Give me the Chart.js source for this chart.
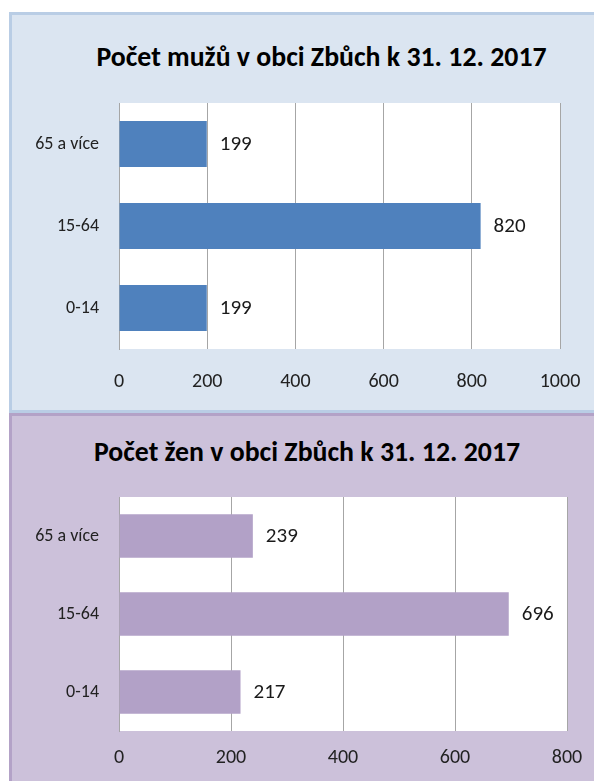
<!DOCTYPE html>
<html>
<head>
<meta charset="utf-8">
<script src="https://cdn.jsdelivr.net/npm/chart.js@4"></script>
<style>
  html, body { margin: 0; padding: 0; background: #ffffff; width: 594px; height: 781px; overflow: hidden; }
  .panel { position: absolute; box-sizing: border-box; }
  #menPanel { left: 9px; top: 12px; width: 600px; height: 401px; background: #dbe5f1; border: 3px solid #b9cde5; }
  #womenPanel { left: 9px; top: 413px; width: 600px; height: 380px; background: #ccc1da; border: 3px solid #b3a2c7; }
  .wrap { position: absolute; left: 0; width: 594px; }
  #menWrap { top: 0; height: 412px; }
  #womenWrap { top: 412px; height: 369px; }
  .title {
    position: absolute; left: 0; height: 34px; line-height: 34px;
    text-align: center; white-space: nowrap;
    font-family: Carlito, Lato, "Liberation Sans", sans-serif;
    font-size: 27.8px; font-weight: bold; color: #000000;
  }
  #menTitle { top: 40px; width: 643px; }
  #womenTitle { top: 435px; width: 614px; }
</style>
</head>
<body>
<div class="panel" id="menPanel"></div>
<div class="panel" id="womenPanel"></div>
<div class="title" id="menTitle"></div>
<div class="title" id="womenTitle"></div>
<div class="wrap" id="menWrap"><canvas id="menChart"></canvas></div>
<div class="wrap" id="womenWrap"><canvas id="womenChart"></canvas></div>
<script>
const ageGroups = ['65 a více', '15-64', '0-14'];
const menValues = [199, 820, 199];
const womenValues = [239, 696, 217];
const menTicks = [0, 200, 400, 600, 800, 1000];
const womenTicks = [0, 200, 400, 600, 800];
const menTitle = 'Počet mužů v obci Zbůch k 31. 12. 2017';
const womenTitle = 'Počet žen v obci Zbůch k 31. 12. 2017';

const FONT = 'Carlito, Lato, "Liberation Sans", sans-serif';

// bílé pozadí plochy grafu
const plotBg = {
    id: 'plotBg',
    beforeDraw(chart) {
        const { ctx, chartArea } = chart;
        ctx.save();
        ctx.fillStyle = '#ffffff';
        ctx.fillRect(chartArea.left, chartArea.top, chartArea.right - chartArea.left, chartArea.bottom - chartArea.top);
        ctx.restore();
    }
};

// popisky hodnot za koncem sloupce
const valueLabels = {
    id: 'valueLabels',
    afterDatasetsDraw(chart) {
        const { ctx } = chart;
        const meta = chart.getDatasetMeta(0);
        const data = chart.data.datasets[0].data;
        ctx.save();
        ctx.font = '21px ' + FONT;
        ctx.fillStyle = '#1a1a1a';
        ctx.textAlign = 'left';
        ctx.textBaseline = 'middle';
        meta.data.forEach((bar, i) => {
            ctx.fillText(String(data[i]), bar.x + 13, bar.y + 1);
        });
        ctx.restore();
    }
};

function makeChart(id, opts) {
    return new Chart(document.getElementById(id), {
        type: 'bar',
        data: {
            labels: ageGroups,
            datasets: [{
                data: opts.values,
                backgroundColor: opts.color,
                borderWidth: 0,
                categoryPercentage: 1,
                barPercentage: 0.56
            }]
        },
        options: {
            indexAxis: 'y',
            responsive: true,
            maintainAspectRatio: false,
            animation: false,
            layout: { padding: { left: 0, right: opts.padRight, top: opts.padTop, bottom: 0 } },
            plugins: {
                legend: { display: false },
                tooltip: { enabled: false },
                title: { display: false }
            },
            scales: {
                x: {
                    min: 0,
                    max: opts.ticks[opts.ticks.length - 1],
                    afterBuildTicks: (scale) => { scale.ticks = opts.ticks.map(v => ({ value: v })); },
                    afterFit: (scale) => {
                        scale.height = opts.xHeight;
                        // okraj určuje jen layout.padding
                        scale.paddingLeft = 0;
                        scale.paddingRight = 0;
                    },
                    grid: { color: '#a6a6a6', drawTicks: false, lineWidth: 1 },
                    border: { display: false },
                    ticks: {
                        color: '#222222',
                        padding: opts.xTickPad,
                        font: { family: FONT, size: 20 },
                        callback: (v) => String(v)
                    }
                },
                y: {
                    afterFit: (scale) => { scale.width = 119; },
                    grid: { display: false, drawTicks: false },
                    border: { display: true, color: '#a6a6a6' },
                    ticks: {
                        color: '#222222',
                        padding: 20,
                        font: { family: FONT, size: 18 }
                    }
                }
            }
        },
        plugins: [plotBg, valueLabels]
    });
}

document.getElementById('menTitle').textContent = menTitle;
document.getElementById('womenTitle').textContent = womenTitle;

makeChart('menChart', {
    values: menValues,
    color: '#4f81bd',
    ticks: menTicks,
    padTop: 103,
    padRight: 34,
    xHeight: 63,
    xTickPad: 21
});

makeChart('womenChart', {
    values: womenValues,
    color: '#b2a1c7',
    ticks: womenTicks,
    padTop: 85,
    padRight: 27,
    xHeight: 50,
    xTickPad: 15
});
</script>
</body>
</html>
